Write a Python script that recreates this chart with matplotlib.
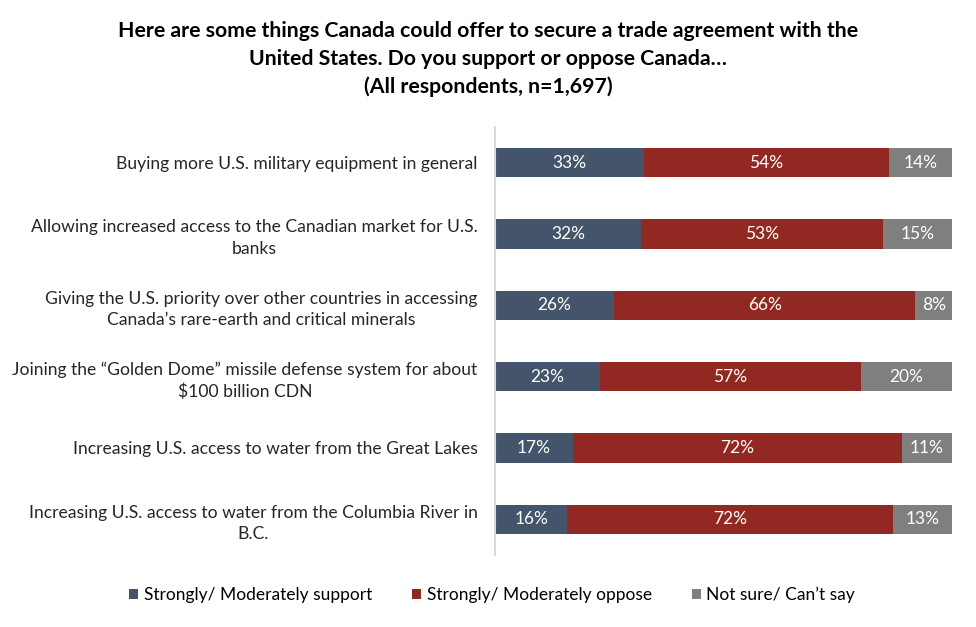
import matplotlib
matplotlib.use("Agg")
import matplotlib.pyplot as plt
import numpy as np

plt.rcParams['font.family'] = ['Lato', 'DejaVu Sans']

categories = [
    "Buying more U.S. military equipment in general",
    "Allowing increased access to the Canadian market for U.S.\nbanks",
    "Giving the U.S. priority over other countries in accessing\nCanada\u2019s rare-earth and critical minerals",
    "Joining the \u201cGolden Dome\u201d missile defense system for about\n$100 billion CDN",
    "Increasing U.S. access to water from the Great Lakes",
    "Increasing U.S. access to water from the Columbia River in\nB.C.",
]
support = [33, 32, 26, 23, 17, 16]
oppose = [54, 53, 66, 57, 72, 72]
notsure = [14, 15, 8, 20, 11, 13]
series_names = ["Strongly/ Moderately support", "Strongly/ Moderately oppose", "Not sure/ Can\u2019t say"]
colors = ["#44546A", "#922822", "#7F7F7F"]

title = ("Here are some things Canada could offer to secure a trade agreement with the\n"
         "United States. Do you support or oppose Canada\u2026\n"
         "(All respondents, n=1,697)")

fig = plt.figure(figsize=(9.76, 6.27), dpi=100)
ax = fig.add_axes([495/976, 1-555/627, (952-495)/976, (555-127)/627])

data = np.array([support, oppose, notsure], dtype=float)
totals = data.sum(axis=0)
shares = data / totals * 100
y = np.arange(len(categories))
left = np.zeros(len(categories))
for i in range(3):
    ax.barh(y, shares[i], left=left, height=0.41, color=colors[i], label=series_names[i])
    for j in range(len(categories)):
        ax.text(left[j] + shares[i][j] / 2, y[j], f"{int(data[i][j])}%",
                ha='center', va='center', color='white', fontsize=12.5)
    left += shares[i]

ax.set_xlim(0, 100)
ax.set_ylim(len(categories) - 0.5, -0.5)
ax.set_yticks(y)
ax.set_yticklabels(categories, fontsize=12.6, color='#262626', linespacing=1.4)
for t in ax.get_yticklabels():
    t.set_multialignment('center')
ax.tick_params(axis='y', length=0, pad=12.5)
ax.set_xticks([])
for s in ['top', 'right', 'bottom']:
    ax.spines[s].set_visible(False)
ax.spines['left'].set_color('#D9D9D9')
ax.spines['left'].set_linewidth(1.5)

fig.text(488/976, 1-59/627, title, ha='center', va='center', fontsize=15.3,
         fontweight='bold', color='black', linespacing=1.47)

handles, labels = ax.get_legend_handles_labels()
fig.legend(handles, labels, loc='center', bbox_to_anchor=(492/976, 1-595/627), ncol=3,
           frameon=False, fontsize=12.5, handlelength=0.55, handleheight=0.55,
           handletextpad=0.3, columnspacing=2.3)

fig.savefig("out.png", dpi=100)
